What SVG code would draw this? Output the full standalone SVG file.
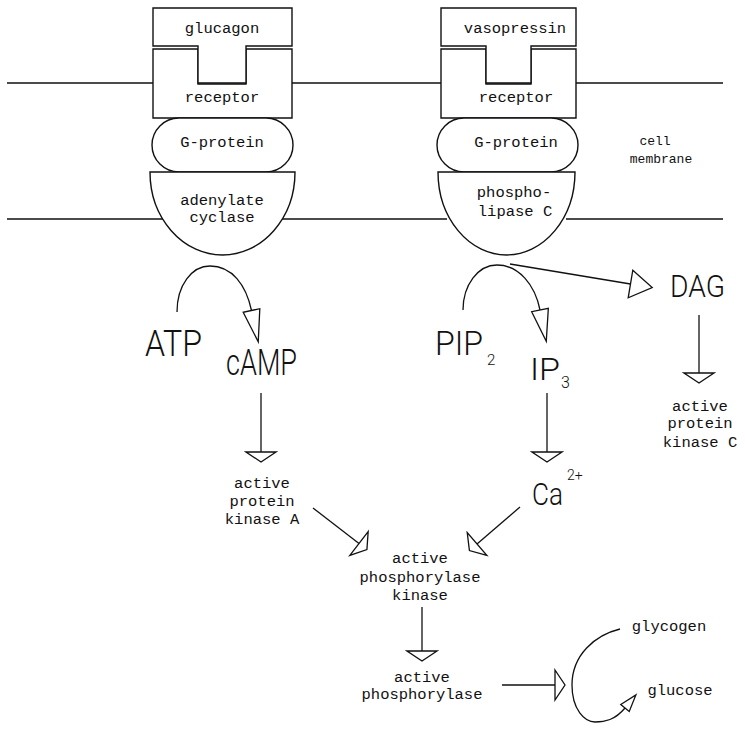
<svg xmlns="http://www.w3.org/2000/svg" width="745" height="734" viewBox="0 0 745 734">
<style>
.s{fill:#fff;stroke:#111;stroke-width:1.4}
.ln{fill:none;stroke:#111;stroke-width:1.3}
.t{font-family:"Liberation Mono","DejaVu Sans Mono",monospace;font-size:15.5px;fill:#111;text-anchor:middle}
.sm{font-size:13px}
.b{font-family:Roboto,"Liberation Sans",sans-serif;font-weight:300;fill:#111}
</style>
<defs>
<marker id="ah" markerUnits="userSpaceOnUse" viewBox="-2 -17 16 34" markerWidth="16" markerHeight="34" refX="0" refY="0" orient="auto"><path d="M0,-15 L10,0 L0,15 Z" fill="#fff" stroke="#111" stroke-width="1.3"/></marker>
<marker id="ahl" markerUnits="userSpaceOnUse" viewBox="-2 -11 38 22" markerWidth="38" markerHeight="22" refX="0" refY="0" orient="auto"><path d="M0,-8.5 L32,0 L0,8.5 Z" fill="#fff" stroke="#111" stroke-width="1.3"/></marker>
<marker id="ahd" markerUnits="userSpaceOnUse" viewBox="-2 -16 28 32" markerWidth="28" markerHeight="32" refX="0" refY="0" orient="auto"><path d="M0,-14 L22,0 L0,14 Z" fill="#fff" stroke="#111" stroke-width="1.3"/></marker>
<marker id="ahs" markerUnits="userSpaceOnUse" viewBox="-2 -8 22 16" markerWidth="22" markerHeight="16" refX="0" refY="0" orient="auto"><path d="M0,-5.5 L17,0 L0,5.5 Z" fill="#fff" stroke="#111" stroke-width="1.3"/></marker>
</defs>
<rect width="745" height="734" fill="#fff"/>

<g id="membrane">
<path class="ln" d="M7,83 H153 M292,83 H441 M576,83 H723 M7,219 H163 M282,219 H447 M566,219 H723"/>
<text class="t sm" x="655" y="145">cell</text>
<text class="t sm" x="661" y="163">membrane</text>
</g>

<g id="receptor-left">
<path class="s" d="M153,49 H198 V84 H246 V49 H292 V118 H153 Z"/>
<text class="t" x="222" y="102">receptor</text>
</g>
<g id="glucagon">
<path class="s" d="M153,8 H292 V46 H246 V83 H198 V46 H153 Z"/>
<text class="t" x="222" y="33">glucagon</text>
</g>
<g id="gprotein-left">
<rect class="s" x="152" y="118" width="141" height="54" rx="27"/>
<text class="t" x="222" y="147">G-protein</text>
</g>
<g id="adenylate-cyclase">
<path class="s" d="M150,172 H295 A72.5,83 0 0 1 150,172 Z"/>
<text class="t" x="222" y="205">adenylate</text>
<text class="t" x="222" y="222">cyclase</text>
</g>

<g id="receptor-right">
<path class="s" d="M441,49 H486 V84 H531 V49 H576 V118 H441 Z"/>
<text class="t" x="516" y="102">receptor</text>
</g>
<g id="vasopressin">
<path class="s" d="M441,8 H576 V46 H531 V83 H486 V46 H441 Z"/>
<text class="t" x="515" y="33">vasopressin</text>
</g>
<g id="gprotein-right">
<rect class="s" x="437" y="118" width="141" height="54" rx="27"/>
<text class="t" x="516" y="147">G-protein</text>
</g>
<g id="phospholipase-c">
<path class="s" d="M438,172 H575 A68.5,83 0 0 1 438,172 Z"/>
<text class="t" x="514" y="197">phospho-</text>
<text class="t" x="515" y="216">lipase C</text>
</g>

<g id="ATP"><text class="b" x="145" y="356" font-size="37" textLength="57" lengthAdjust="spacingAndGlyphs">ATP</text></g>
<g id="cAMP"><text class="b" x="226" y="375" font-size="37" textLength="71" lengthAdjust="spacingAndGlyphs">cAMP</text></g>
<g id="PIP2"><text class="b" x="435" y="355" font-size="33"><tspan textLength="48" lengthAdjust="spacingAndGlyphs">PIP</tspan><tspan x="487" y="365" font-size="15">2</tspan></text></g>
<g id="IP3"><text class="b" x="530" y="380" font-size="32"><tspan textLength="30" lengthAdjust="spacingAndGlyphs">IP</tspan><tspan x="561" y="388" font-size="16">3</tspan></text></g>
<g id="DAG"><text class="b" x="670" y="297" font-size="31" textLength="55" lengthAdjust="spacingAndGlyphs">DAG</text></g>
<g id="Ca"><text class="b" x="532" y="505" font-size="32"><tspan textLength="31" lengthAdjust="spacingAndGlyphs">Ca</tspan><tspan x="567" y="480" font-size="14">2+</tspan></text></g>

<g id="pkA">
<text class="t" x="262" y="488">active</text>
<text class="t" x="262" y="506">protein</text>
<text class="t" x="262" y="524">kinase A</text>
</g>
<g id="pkC">
<text class="t" x="700" y="411">active</text>
<text class="t" x="700" y="428">protein</text>
<text class="t" x="700" y="447">kinase C</text>
</g>
<g id="phk">
<text class="t" x="420" y="563">active</text>
<text class="t" x="420" y="582">phosphorylase</text>
<text class="t" x="420" y="600">kinase</text>
</g>
<g id="phos">
<text class="t" x="422" y="682">active</text>
<text class="t" x="422" y="699">phosphorylase</text>
</g>
<g id="glycogen"><text class="t" x="669" y="631">glycogen</text></g>
<g id="glucose"><text class="t" x="680" y="695">glucose</text></g>

<g id="connectors">
<path class="ln" d="M177,312 C177,285 192,266 210,266 C232,266 246,285 251.5,310.5" marker-end="url(#ahl)"/>
<path class="ln" d="M463,310 C463,285 478,265 497,265 C519,265 535,285 540,310" marker-end="url(#ahl)"/>
<path class="ln" d="M510,264 L630.5,284" marker-end="url(#ahd)"/>
<path class="ln" d="M261,393 V452" marker-end="url(#ah)"/>
<path class="ln" d="M547,393 V452" marker-end="url(#ah)"/>
<path class="ln" d="M699,315 V373" marker-end="url(#ah)"/>
<path class="ln" d="M313,508 L359,543.5" marker-end="url(#ah)"/>
<path class="ln" d="M520,507 L477,544" marker-end="url(#ah)"/>
<path class="ln" d="M422,607 V651" marker-end="url(#ah)"/>
<path class="ln" d="M502,685 H555" marker-end="url(#ah)"/>
<path class="ln" d="M620,629 C595,635 572,655 572,685 C572,710 585,722 595,722 C605,722 615,720 625,708" marker-end="url(#ahs)"/>
</g>
</svg>
